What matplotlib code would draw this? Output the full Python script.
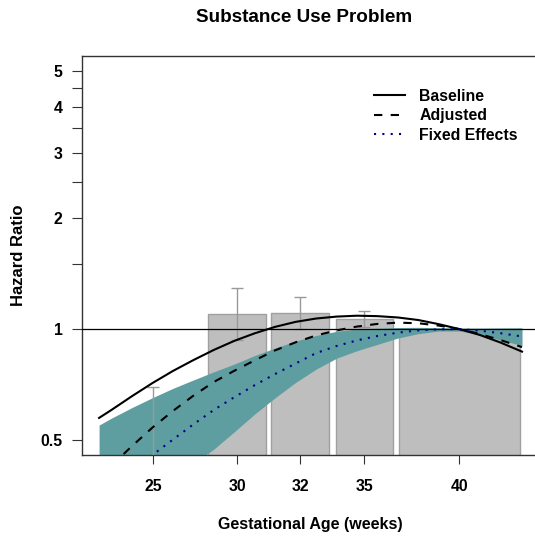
import matplotlib
matplotlib.use("Agg")
import matplotlib.pyplot as plt
from matplotlib.lines import Line2D
from matplotlib.ticker import NullLocator

plt.rcParams['font.family'] = ['Liberation Sans', 'DejaVu Sans']
plt.rcParams['font.weight'] = 'bold'

# gestational age (weeks) at which the fitted curves were read
weeks = [22.4, 23, 24, 25, 26, 27, 28, 29, 30, 31, 32, 33, 34, 35, 36, 37, 38, 39, 40, 41, 42, 43.06]

# hazard ratios of the three models
hr_baseline = [0.575, 0.604, 0.658, 0.714, 0.770, 0.824, 0.878, 0.929, 0.974, 1.014, 1.046,
               1.068, 1.081, 1.087, 1.084, 1.075, 1.058, 1.031, 1.000, 0.964, 0.920, 0.869]
hr_adjusted = [0.399, 0.427, 0.482, 0.541, 0.600, 0.660, 0.719, 0.771, 0.823, 0.876, 0.921,
               0.961, 0.992, 1.016, 1.033, 1.041, 1.037, 1.022, 1.000, 0.970, 0.934, 0.894]
hr_fixed = [0.346, 0.372, 0.413, 0.456, 0.502, 0.552, 0.604, 0.654, 0.705, 0.756, 0.807,
            0.861, 0.900, 0.932, 0.958, 0.978, 0.992, 0.999, 1.000, 0.990, 0.975, 0.955]
# confidence band of the fixed effects model
ci_low = [0.244, 0.264, 0.301, 0.343, 0.387, 0.432, 0.473, 0.527, 0.589, 0.652, 0.717,
          0.779, 0.834, 0.874, 0.909, 0.946, 0.972, 0.988, 0.988, 0.966, 0.934, 0.903]
ci_high = [0.550, 0.574, 0.613, 0.652, 0.691, 0.728, 0.766, 0.804, 0.848, 0.889, 0.928,
           0.961, 0.986, 1.000, 1.006, 1.010, 1.011, 1.009, 1.006, 1.006, 1.007, 1.008]

# observed hazard ratios by gestational age group
bin_left = [22.6, 27.74, 30.80, 33.96, 37.05]
bin_right = [27.45, 30.54, 33.63, 36.74, 42.96]
bin_labels = ['25', '30', '32', '35', '40']
bar_hr = [0.42, 1.100, 1.108, 1.065, 1.000]
bar_hi = [0.696, 1.295, 1.224, 1.119, 1.000]
bar_lo = [0.253, 0.932, 1.002, 1.013, 1.000]

teal = '#5F9EA0'
fs = 11.4

fig = plt.figure(figsize=(5.35, 5.39), dpi=100)
ax = fig.add_axes([0.154, 0.1558, 0.8535, 0.7403])
ax.set_yscale('log')

centers = [(l + r) / 2 for l, r in zip(bin_left, bin_right)]
widths = [r - l for l, r in zip(bin_left, bin_right)]
base = 0.3
ax.bar(centers, [h - base for h in bar_hr], width=widths, bottom=base,
       color='#BEBEBE', edgecolor='#A0A0A0', linewidth=1, zorder=1)

ax.fill_between(weeks, ci_low, ci_high, color=teal, linewidth=0, zorder=2)

# error bars (the reference group has none)
for c, h, lo, hi in zip(centers, bar_hr, bar_lo, bar_hi):
    if hi == lo:
        continue
    ax.errorbar([c], [h], yerr=[[h - lo], [hi - h]], fmt='none', ecolor='#999999',
                elinewidth=1, capsize=4.3, capthick=1, zorder=3)

ax.axhline(1, color='black', linewidth=0.9, zorder=4)

lw = 1.5
ax.plot(weeks, hr_baseline, color='black', linewidth=lw, zorder=5)
ax.plot(weeks, hr_adjusted, color='black', linewidth=lw, dashes=(4, 4), zorder=5)
ax.plot(weeks, hr_fixed, color='#00008B', linewidth=lw, dashes=(1, 3), zorder=5)

ax.set_xlim(21.585, 43.89)
ax.set_ylim(0.4563, 5.482)

ax.set_xticks(centers)
ax.set_xticklabels(bin_labels, fontsize=fs, fontweight='bold')
yt = [0.5, 1, 1.5, 2, 2.5, 3, 3.5, 4, 4.5, 5]
ax.set_yticks(yt)
ax.set_yticklabels(['0.5', '1', '', '2', '', '3', '', '4', '', '5'], fontsize=fs, fontweight='bold')
ax.yaxis.set_minor_locator(NullLocator())
ax.tick_params(axis='y', length=7.2, width=0.8, pad=7, color='#333333')
ax.tick_params(axis='x', length=6.5, width=0.8, pad=10.5, color='#333333')
for s in ax.spines.values():
    s.set_linewidth(1)
    s.set_color('#333333')

handles = [Line2D([], [], color='black', linewidth=lw),
           Line2D([], [], color='black', linewidth=lw, dashes=(4, 4)),
           Line2D([], [], color='#00008B', linewidth=lw, dashes=(1, 3))]
ax.legend(handles, ['Baseline', 'Adjusted', 'Fixed Effects'], loc='upper left',
          bbox_to_anchor=(0.639, 0.918), frameon=False, fontsize=fs, handlelength=1.96,
          handletextpad=0.9, labelspacing=0.28, borderpad=0, borderaxespad=0)

fig.text(304 / 535, 1 - 17 / 539, 'Substance Use Problem', ha='center', va='center',
         fontsize=13.6, fontweight='bold')
fig.text(310.5 / 535, 1 - 525 / 539, 'Gestational Age (weeks)', ha='center', va='center',
         fontsize=11.5, fontweight='bold')
fig.text(19 / 535, 1 - 255 / 539, 'Hazard Ratio', ha='center', va='center', rotation=90,
         fontsize=12, fontweight='bold')

fig.savefig('out.png', dpi=100)
